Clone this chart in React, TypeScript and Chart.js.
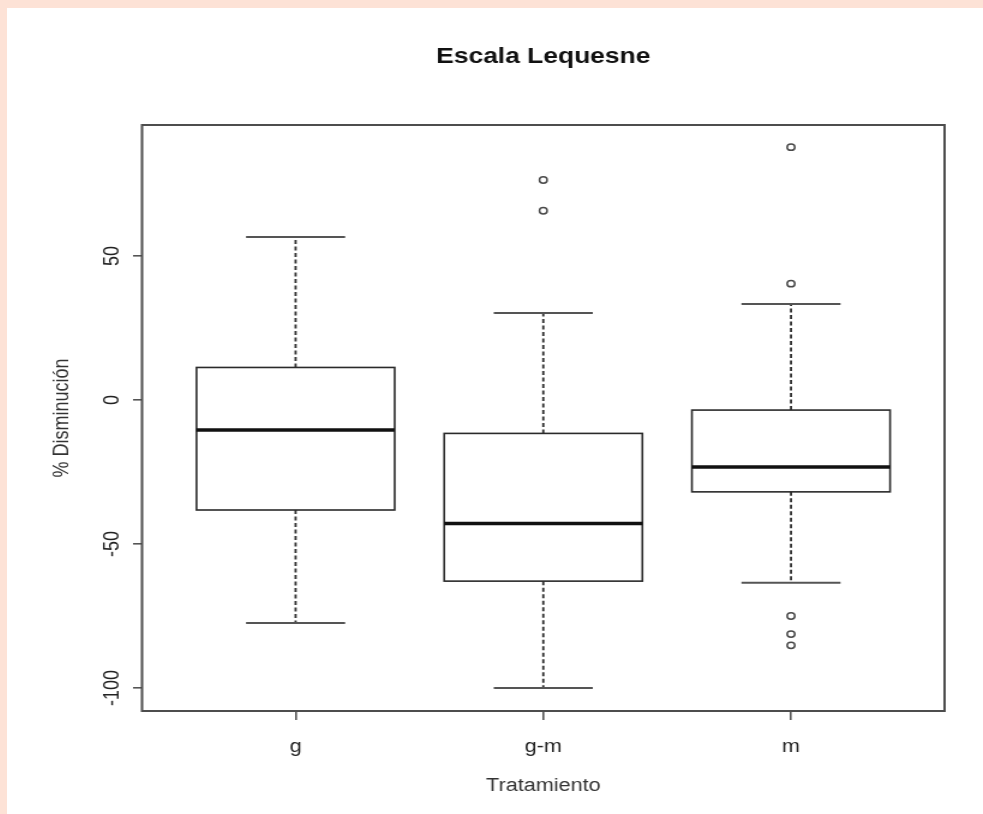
import React, { useEffect, useRef } from "react";
import { Chart, registerables } from "chart.js";

Chart.register(...registerables);

// ---- data ----
const CATEGORIES = ["g", "g-m", "m"];
const LOWER_WHISKER = [-77.4, -100.0, -63.5];
const Q1 = [-38.2, -62.9, -31.9];
const MEDIAN = [-10.4, -42.9, -23.3];
const Q3 = [11.3, -11.6, -3.5];
const UPPER_WHISKER = [56.6, 30.2, 33.3];
const OUTLIERS_G: number[] = [];
const OUTLIERS_GM = [76.4, 65.7];
const OUTLIERS_M = [87.8, 40.4, -75.0, -81.3, -85.2];
const Y_TICKS = [-100, -50, 0, 50];
const X_TICKS = [1, 2, 3];

const TITLE = "Escala Lequesne";
const X_TITLE = "Tratamiento";
const Y_TITLE = "% Disminución";

const FONT = "'Liberation Sans', Arial, Helvetica, sans-serif";
const STRETCH = 1.2; // the reference is horizontally stretched
const CSS_W = 976;
const CSS_H = 806;
const INT_W = Math.round(CSS_W / STRETCH);

const boxPlugin = {
  id: "rbox",
  beforeDatasetsDraw(chart: any) {
    const { ctx, chartArea, scales } = chart;
    const xs = scales.x;
    const ys = scales.y;
    ctx.save();
    // plot frame
    ctx.strokeStyle = "#4d4d4d";
    ctx.lineWidth = 2;
    ctx.setLineDash([]);
    ctx.strokeRect(
      chartArea.left,
      chartArea.top,
      chartArea.right - chartArea.left,
      chartArea.bottom - chartArea.top
    );
    CATEGORIES.forEach((_, i) => {
      const c = i + 1;
      const xl = xs.getPixelForValue(c - 0.4);
      const xr = xs.getPixelForValue(c + 0.4);
      const xc = xs.getPixelForValue(c);
      const cl = xs.getPixelForValue(c - 0.2);
      const cr = xs.getPixelForValue(c + 0.2);
      const yLo = ys.getPixelForValue(LOWER_WHISKER[i]);
      const yQ1 = ys.getPixelForValue(Q1[i]);
      const yMed = ys.getPixelForValue(MEDIAN[i]);
      const yQ3 = ys.getPixelForValue(Q3[i]);
      const yHi = ys.getPixelForValue(UPPER_WHISKER[i]);

      // dashed whiskers
      ctx.strokeStyle = "#2e2e2e";
      ctx.lineWidth = 1.8;
      ctx.setLineDash([4, 2.5]);
      ctx.beginPath();
      ctx.moveTo(xc, yQ3);
      ctx.lineTo(xc, yHi);
      ctx.moveTo(xc, yQ1);
      ctx.lineTo(xc, yLo);
      ctx.stroke();
      ctx.setLineDash([]);

      // caps
      ctx.strokeStyle = "#555";
      ctx.lineWidth = 2;
      ctx.beginPath();
      ctx.moveTo(cl, yHi);
      ctx.lineTo(cr, yHi);
      ctx.moveTo(cl, yLo);
      ctx.lineTo(cr, yLo);
      ctx.stroke();

      // box
      ctx.fillStyle = "#ffffff";
      ctx.fillRect(xl, yQ3, xr - xl, yQ1 - yQ3);
      ctx.strokeStyle = "#2a2a2a";
      ctx.lineWidth = 1.6;
      ctx.strokeRect(xl, yQ3, xr - xl, yQ1 - yQ3);

      // median
      ctx.strokeStyle = "#111";
      ctx.lineWidth = 3.5;
      ctx.beginPath();
      ctx.moveTo(xl, yMed);
      ctx.lineTo(xr, yMed);
      ctx.stroke();
    });
    ctx.restore();
  },
};

export default function App() {
  const ref = useRef<HTMLCanvasElement | null>(null);

  useEffect(() => {
    if (!ref.current) return;
    const outlierPoints = [
      ...OUTLIERS_G.map((v) => ({ x: 1, y: v })),
      ...OUTLIERS_GM.map((v) => ({ x: 2, y: v })),
      ...OUTLIERS_M.map((v) => ({ x: 3, y: v })),
    ];
    const chart = new Chart(ref.current, {
      type: "scatter",
      data: {
        datasets: [
          {
            data: outlierPoints,
            pointStyle: "circle",
            pointRadius: 3.2,
            pointBorderWidth: 1.5,
            pointBorderColor: "#4a4a4a",
            pointBackgroundColor: "#ffffff",
          },
        ],
      },
      plugins: [boxPlugin],
      options: {
        responsive: false,
        animation: false,
        devicePixelRatio: 1,
        layout: { padding: { left: 0, right: 32, top: 0, bottom: 0 } },
        plugins: {
          legend: { display: false },
          tooltip: { enabled: false },
          title: {
            display: true,
            text: TITLE,
            fullSize: false,
            color: "#111",
            font: { family: FONT, size: 22, weight: "bold", lineHeight: 1.2 },
            padding: { top: 35.8, bottom: 54.8 },
          },
        },
        scales: {
          x: {
            type: "linear",
            min: 0.38,
            max: 3.62,
            afterBuildTicks: (scale: any) => {
              scale.ticks = X_TICKS.map((v) => ({ value: v }));
            },
            afterFit: (scale: any) => {
              scale.height = 103;
            },
            ticks: {
              color: "#222",
              font: { family: FONT, size: 18 },
              padding: 16,
              maxRotation: 0,
              minRotation: 0,
              callback: (v: any) => CATEGORIES[Number(v) - 1] ?? "",
            },
            grid: {
              drawOnChartArea: false,
              drawTicks: true,
              tickLength: 9,
              color: "#555",
              lineWidth: 1.6,
            },
            border: { display: false },
            title: {
              display: true,
              text: X_TITLE,
              color: "#333",
              font: { family: FONT, size: 18, lineHeight: 1.2 },
              padding: { top: 0, bottom: 17.2 },
            },
          },
          y: {
            type: "linear",
            min: -108,
            max: 95.5,
            afterBuildTicks: (scale: any) => {
              scale.ticks = Y_TICKS.map((v) => ({ value: v }));
            },
            afterFit: (scale: any) => {
              scale.width = 112.5;
            },
            ticks: {
              color: "#222",
              font: { family: FONT, size: 18 },
              padding: -1.5,
              minRotation: 90,
              maxRotation: 90,
              crossAlign: "center",
              callback: (v: any) => String(v),
            },
            grid: {
              drawOnChartArea: false,
              drawTicks: true,
              tickLength: 7.5,
              color: "#555",
              lineWidth: 1.6,
            },
            border: { display: false },
            title: {
              display: true,
              text: Y_TITLE,
              color: "#333",
              font: { family: FONT, size: 18, lineHeight: 1.2 },
              padding: { top: 35, bottom: 0 },
            },
          },
        },
      },
    } as any);
    return () => chart.destroy();
  }, []);

  return (
    <div
      style={{
        position: "absolute",
        left: 0,
        top: 0,
        width: 983,
        height: 814,
        background: "#fde2d6",
        overflow: "hidden",
      }}
    >
      <canvas
        ref={ref}
        width={INT_W}
        height={CSS_H}
        style={{
          position: "absolute",
          left: 7,
          top: 8,
          width: CSS_W,
          height: CSS_H,
          background: "#ffffff",
          display: "block",
        }}
      />
    </div>
  );
}
